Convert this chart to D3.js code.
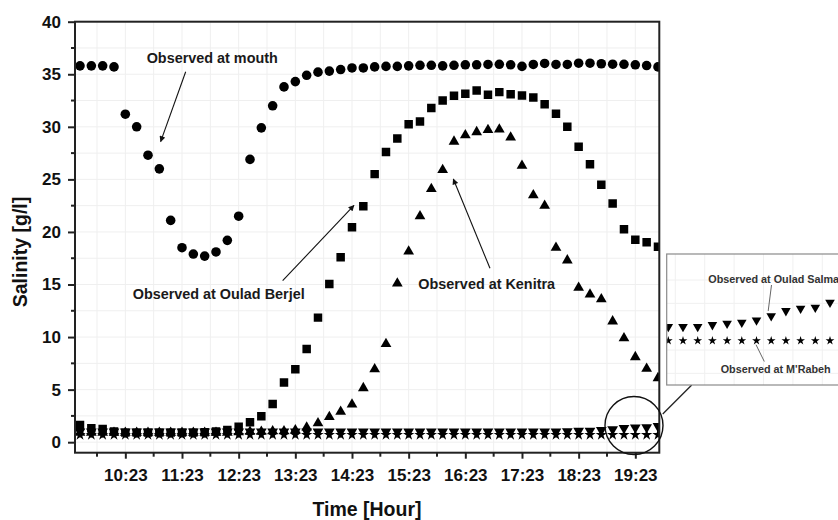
<!DOCTYPE html>
<html>
<head>
<meta charset="utf-8">
<script src="https://cdn.jsdelivr.net/npm/d3@7"></script>
<style>
  html, body { margin: 0; padding: 0; background: #fff; overflow: hidden; }
  svg { display: block; font-family: "Liberation Sans", Arial, Helvetica, sans-serif; }
</style>
</head>
<body>
<svg id="chart" width="838" height="520"></svg>
<script>
// Sampling times (every 12 minutes)
const sampleTimes = [
  "09:35","09:47","09:59","10:11","10:23","10:35","10:47","10:59","11:11","11:23",
  "11:35","11:47","11:59","12:11","12:23","12:35","12:47","12:59","13:11","13:23",
  "13:35","13:47","13:59","14:11","14:23","14:35","14:47","14:59","15:11","15:23",
  "15:35","15:47","15:59","16:11","16:23","16:35","16:47","16:59","17:11","17:23",
  "17:35","17:47","17:59","18:11","18:23","18:35","18:47","18:59","19:11","19:23",
  "19:35","19:47"
];

// Salinity [g/l] observed at each station
const mouth = [
  35.8, 35.8, 35.8, 35.7, 31.2, 30.0, 27.3, 26.0, 21.1, 18.5,
  17.9, 17.7, 18.1, 19.2, 21.5, 26.9, 29.9, 32.0, 33.8, 34.3,
  34.9, 35.2, 35.3, 35.45, 35.6, 35.6, 35.7, 35.75, 35.75, 35.8,
  35.85, 35.85, 35.8, 35.85, 35.9, 35.9, 35.93, 35.95, 35.9, 35.75,
  35.93, 36.03, 35.93, 35.93, 36.05, 36.05, 36.0, 35.96, 35.95, 35.9,
  35.83, 35.7
];
const ouladBerjel = [
  1.64, 1.33, 1.26, 1.01, 0.91, 0.91, 0.91, 0.91, 0.91, 0.91,
  0.91, 0.95, 1.01, 1.17, 1.48, 1.9, 2.47, 3.64, 5.67, 6.94,
  8.87, 11.85, 15.05, 17.6, 20.45, 22.45, 25.5, 27.6, 28.9, 30.25,
  30.5, 31.8, 32.5, 32.95, 33.15, 33.45, 33.05, 33.3, 33.1, 32.97,
  32.8, 32.15, 31.25, 30.0, 28.1, 26.45, 24.5, 22.7, 20.25, 19.25,
  19.03, 18.6
];
const kenitra = [
  0.9, 0.9, 0.9, 0.9, 0.9, 0.9, 0.9, 0.9, 0.9, 0.9,
  0.9, 0.9, 0.9, 0.9, 0.95, 1.0, 1.0, 1.05, 1.05, 1.15,
  1.4, 1.8, 2.4, 2.9, 3.6, 5.15, 6.95, 9.35, 15.1, 18.15,
  21.5, 24.1, 25.9, 28.6, 29.2, 29.5, 29.7, 29.75, 29.0, 26.3,
  23.5, 22.5, 18.5, 17.3, 14.7, 14.05, 13.6, 11.5, 9.9, 8.1,
  7.0, 6.1
];
const ouladSalma = [
  1.0, 1.0, 1.0, 1.0, 1.0, 1.0, 1.0, 1.0, 1.0, 1.0,
  1.0, 1.0, 1.0, 1.0, 1.0, 1.0, 1.0, 1.0, 1.0, 1.0,
  1.0, 1.0, 1.0, 1.0, 1.0, 1.0, 1.0, 1.0, 1.0, 1.0,
  1.0, 1.0, 1.0, 1.0, 1.0, 1.0, 1.0, 1.0, 1.0, 1.0,
  1.0, 1.0, 1.0, 1.04, 1.07, 1.09, 1.14, 1.23, 1.34, 1.39,
  1.41, 1.52
];
const mRabeh = [
  0.7, 0.7, 0.7, 0.7, 0.7, 0.7, 0.7, 0.7, 0.7, 0.7,
  0.7, 0.7, 0.7, 0.7, 0.7, 0.7, 0.7, 0.7, 0.7, 0.7,
  0.7, 0.7, 0.7, 0.7, 0.7, 0.7, 0.7, 0.7, 0.7, 0.7,
  0.7, 0.7, 0.7, 0.7, 0.7, 0.7, 0.7, 0.7, 0.7, 0.7,
  0.7, 0.7, 0.7, 0.7, 0.7, 0.7, 0.7, 0.7, 0.7, 0.7,
  0.7, 0.7
];

// Axis ticks
const hourTicks = ["10:23","11:23","12:23","13:23","14:23","15:23","16:23","17:23","18:23","19:23"];
const halfHourTicks = ["09:53","10:53","11:53","12:53","13:53","14:53","15:53","16:53","17:53","18:53"];
const salinityTicks = [0, 5, 10, 15, 20, 25, 30, 35, 40];
const salinityMinorTicks = [2.5, 7.5, 12.5, 17.5, 22.5, 27.5, 32.5, 37.5];

// Inset (zoom on the late samples of the two upstream stations)
const insetStart = "17:35";
const insetEnd = "19:47";

const toMin = s => +s.slice(0, 2) * 60 + +s.slice(3, 5);

const svg = d3.select("#chart");
const plot = { left: 75, right: 659.3, top: 21.7, bottom: 452.7 };

const x = d3.scaleLinear().domain([569.7, 1188.4]).range([plot.left, plot.right]);
const y = d3.scaleLinear().domain([-1, 40]).range([plot.bottom, plot.top]);

const defs = svg.append("defs");
defs.append("clipPath").attr("id", "plotClip")
  .append("rect")
  .attr("x", plot.left).attr("y", plot.top)
  .attr("width", plot.right - plot.left).attr("height", plot.bottom - plot.top);

defs.append("marker")
  .attr("id", "arrowHead")
  .attr("viewBox", "0 0 10 10")
  .attr("refX", 9).attr("refY", 5)
  .attr("markerWidth", 7).attr("markerHeight", 6)
  .attr("markerUnits", "userSpaceOnUse")
  .attr("orient", "auto")
  .append("path").attr("d", "M0,0 L10,5 L0,10 Z").attr("fill", "#111");

// Light background grid
const grid = svg.append("g").attr("stroke", "#efefef").attr("stroke-width", 1);
[...hourTicks, ...halfHourTicks].forEach(t => {
  grid.append("line")
    .attr("x1", x(toMin(t))).attr("x2", x(toMin(t)))
    .attr("y1", plot.top).attr("y2", plot.bottom);
});
[...salinityTicks, ...salinityMinorTicks].forEach(v => {
  grid.append("line")
    .attr("x1", plot.left).attr("x2", plot.right)
    .attr("y1", y(v)).attr("y2", y(v));
});

// Series
const series = [
  { name: "Observed at M'Rabeh", values: mRabeh, symbol: d3.symbolStar, size: 40, rotate: 0 },
  { name: "Observed at Oulad Salma", values: ouladSalma, symbol: d3.symbolTriangle, size: 50, rotate: 180 },
  { name: "Observed at Kenitra", values: kenitra, symbol: d3.symbolTriangle, size: 50, rotate: 0 },
  { name: "Observed at Oulad Berjel", values: ouladBerjel, symbol: d3.symbolSquare, size: 72, rotate: 0 },
  { name: "Observed at mouth", values: mouth, symbol: d3.symbolCircle, size: 72, rotate: 0 }
];

const marks = svg.append("g").attr("clip-path", "url(#plotClip)");
series.forEach(s => {
  const path = d3.symbol().type(s.symbol).size(s.size)();
  marks.append("g")
    .selectAll("path")
    .data(sampleTimes.map((t, i) => ({ t: toMin(t), v: s.values[i] })))
    .join("path")
    .attr("d", path)
    .attr("fill", "#000")
    .attr("transform", d => `translate(${x(d.t)},${y(d.v)}) rotate(${s.rotate})`);
});

// Frame
svg.append("rect")
  .attr("x", plot.left).attr("y", plot.top)
  .attr("width", plot.right - plot.left).attr("height", plot.bottom - plot.top)
  .attr("fill", "none").attr("stroke", "#222").attr("stroke-width", 2);

// X axis
const xAxis = d3.axisBottom(x)
  .tickValues(hourTicks.map(toMin))
  .tickFormat((d, i) => hourTicks[i])
  .tickSize(6).tickSizeOuter(0).tickPadding(10);
const gx = svg.append("g").attr("transform", `translate(0,${plot.bottom})`).call(xAxis);
gx.select(".domain").remove();
gx.selectAll(".tick line").attr("stroke", "#222").attr("stroke-width", 2);
gx.selectAll(".tick text")
  .attr("fill", "#111").attr("font-size", 17).attr("font-weight", "bold")
  .attr("font-family", "'Liberation Sans', Arial, sans-serif");
gx.append("g").selectAll("line")
  .data(halfHourTicks.map(toMin))
  .join("line")
  .attr("x1", d => x(d)).attr("x2", d => x(d))
  .attr("y1", 0).attr("y2", 4)
  .attr("stroke", "#222").attr("stroke-width", 2);

// Y axis
const yAxis = d3.axisLeft(y)
  .tickValues(salinityTicks)
  .tickSize(7).tickSizeOuter(0).tickPadding(7);
const gy = svg.append("g").attr("transform", `translate(${plot.left},0)`).call(yAxis);
gy.select(".domain").remove();
gy.selectAll(".tick line").attr("stroke", "#222").attr("stroke-width", 2);
gy.selectAll(".tick text")
  .attr("fill", "#111").attr("font-size", 17).attr("font-weight", "bold")
  .attr("font-family", "'Liberation Sans', Arial, sans-serif");
gy.append("g").selectAll("line")
  .data(salinityMinorTicks)
  .join("line")
  .attr("x1", 0).attr("x2", -4)
  .attr("y1", d => y(d)).attr("y2", d => y(d))
  .attr("stroke", "#222").attr("stroke-width", 2);

// Axis titles
svg.append("text")
  .attr("x", 367).attr("y", 516)
  .attr("text-anchor", "middle")
  .attr("font-size", 19.5).attr("font-weight", "bold").attr("fill", "#111")
  .text("Time [Hour]");
svg.append("text")
  .attr("transform", "translate(27,252) rotate(-90)")
  .attr("text-anchor", "middle")
  .attr("font-size", 19.5).attr("font-weight", "bold").attr("fill", "#111")
  .text("Salinity [g/l]");

// Station annotations with arrows (positioned in time / salinity units)
const annotations = [
  { label: "Observed at mouth", at: [645.6, 36.52], from: [686.9, 35.24], to: [660.4, 28.59] },
  { label: "Observed at Oulad Berjel", at: [630.8, 14.07], from: [789.6, 15.36], to: [865.1, 22.53] },
  { label: "Observed at Kenitra", at: [933.2, 15.11], from: [1009.1, 16.54], to: [970.3, 25.04] }
];
const ann = svg.append("g");
annotations.forEach(a => {
  ann.append("text")
    .attr("x", x(a.at[0])).attr("y", y(a.at[1]))
    .attr("dy", "0.36em")
    .attr("font-size", 14.4).attr("font-weight", "bold").attr("fill", "#1a1a1a")
    .text(a.label);
  ann.append("line")
    .attr("x1", x(a.from[0])).attr("y1", y(a.from[1]))
    .attr("x2", x(a.to[0])).attr("y2", y(a.to[1]))
    .attr("stroke", "#111").attr("stroke-width", 1.1)
    .attr("marker-end", "url(#arrowHead)");
});

// Zoom circle around the late low-salinity samples
const zoomCenter = [1161.6, 1.59];
const zoomRadius = 29;
const cx = x(zoomCenter[0]), cy = y(zoomCenter[1]);
svg.append("circle")
  .attr("cx", cx).attr("cy", cy).attr("r", zoomRadius)
  .attr("fill", "none").attr("stroke", "#111").attr("stroke-width", 1.4);

// Inset
const inset = { left: 666.7, top: 254, bottom: 385, right: 900 };
const ix = d3.scaleLinear().domain([toMin(insetStart), toMin(insetEnd)]).range([668.3, 830]);
const iy = d3.scaleLinear().domain([0.7, 1.0]).range([340.7, 326.7]);

// connector from circle to inset
const ang = Math.atan2(413.3 - cy, 664.3 - cx);
svg.append("line")
  .attr("x1", cx + (zoomRadius + 2) * Math.cos(ang)).attr("y1", cy + (zoomRadius + 2) * Math.sin(ang))
  .attr("x2", inset.left + 25).attr("y2", inset.bottom)
  .attr("stroke", "#222").attr("stroke-width", 1.3);

defs.append("clipPath").attr("id", "insetClip")
  .append("rect")
  .attr("x", inset.left).attr("y", inset.top)
  .attr("width", inset.right - inset.left).attr("height", inset.bottom - inset.top);

const gi = svg.append("g");
gi.append("rect")
  .attr("x", inset.left).attr("y", inset.top)
  .attr("width", inset.right - inset.left).attr("height", inset.bottom - inset.top)
  .attr("fill", "#fff");

const ig = gi.append("g").attr("clip-path", "url(#insetClip)");
const insetTimes = sampleTimes.filter(t => toMin(t) >= toMin(insetStart));
insetTimes.forEach((t, k) => {
  if (k % 2 === 0) {
    ig.append("line")
      .attr("x1", ix(toMin(t)) + 7).attr("x2", ix(toMin(t)) + 7)
      .attr("y1", inset.top).attr("y2", inset.bottom)
      .attr("stroke", "#f0f0f0").attr("stroke-width", 1);
  }
});
[0.0, 0.5, 1.5, 2.0].forEach(v => {
  ig.append("line")
    .attr("x1", inset.left).attr("x2", inset.right)
    .attr("y1", iy(v)).attr("y2", iy(v))
    .attr("stroke", "#f0f0f0").attr("stroke-width", 1);
});

const insetSeries = [
  { values: mRabeh, symbol: d3.symbolStar, size: 24, rotate: 0 },
  { values: ouladSalma, symbol: d3.symbolTriangle, size: 40, rotate: 180 }
];
insetSeries.forEach(s => {
  const path = d3.symbol().type(s.symbol).size(s.size)();
  ig.append("g").selectAll("path")
    .data(sampleTimes.map((t, i) => ({ t: toMin(t), v: s.values[i] }))
      .filter(d => d.t >= toMin(insetStart) - 12))
    .join("path")
    .attr("d", path)
    .attr("fill", "#000")
    .attr("transform", d => `translate(${ix(d.t)},${iy(d.v)}) rotate(${s.rotate})`);
});

gi.append("rect")
  .attr("x", inset.left).attr("y", inset.top)
  .attr("width", inset.right - inset.left).attr("height", inset.bottom - inset.top)
  .attr("fill", "none").attr("stroke", "#8a8a8a").attr("stroke-width", 1.2);

// inset labels and leaders
const salmaIdx = sampleTimes.indexOf("18:59");
const rabehIdx = sampleTimes.indexOf("18:47");
gi.append("text")
  .attr("x", 708.3).attr("y", 279.3).attr("dy", "0.36em")
  .attr("font-size", 10.8).attr("font-weight", "bold").attr("fill", "#333")
  .text("Observed at Oulad Salma");
gi.append("line")
  .attr("x1", 771.5).attr("y1", 285)
  .attr("x2", ix(toMin(sampleTimes[salmaIdx])) - 3).attr("y2", iy(ouladSalma[salmaIdx]) - 5)
  .attr("stroke", "#555").attr("stroke-width", 0.9);
gi.append("text")
  .attr("x", 720.7).attr("y", 369).attr("dy", "0.36em")
  .attr("font-size", 10.8).attr("font-weight", "bold").attr("fill", "#333")
  .text("Observed at M'Rabeh");
gi.append("line")
  .attr("x1", ix(toMin(sampleTimes[rabehIdx])) - 0.5).attr("y1", iy(mRabeh[rabehIdx]) + 4)
  .attr("x2", 764.3).attr("y2", 361.5)
  .attr("stroke", "#555").attr("stroke-width", 0.9);
</script>
</body>
</html>
